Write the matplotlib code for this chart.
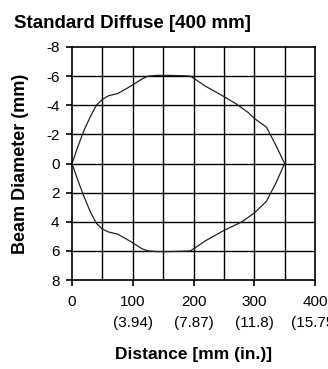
import matplotlib
matplotlib.use("Agg")
import numpy as np
from matplotlib import pyplot as plt

# beam pattern (distance mm, diameter mm)
dist_upper = [0, 10, 20, 30, 40, 50, 60, 75, 90, 100, 115, 125, 140, 160, 180, 195,
              220, 250, 270, 290, 300, 320, 335, 350]
diam_upper = [0, -1.2, -2.3, -3.2, -4.0, -4.4, -4.65, -4.8, -5.15, -5.4, -5.8, -6.0,
              -6.05, -6.05, -6.03, -6.0, -5.3, -4.6, -4.1, -3.5, -3.1, -2.5, -1.3, 0]
dist_lower = [0, 10, 20, 30, 40, 50, 60, 75, 90, 100, 115, 125, 140, 160, 180, 195,
              220, 250, 280, 300, 320, 335, 350]
diam_lower = [0, 1.2, 2.3, 3.3, 4.1, 4.5, 4.7, 4.85, 5.2, 5.45, 5.85, 6.0,
              6.05, 6.05, 6.03, 6.0, 5.3, 4.6, 4.0, 3.4, 2.6, 1.4, 0]

x_ticks = [0, 100, 200, 300, 400]
x_labels = ["0", "100\n(3.94)", "200\n(7.87)", "300\n(11.8)", "400\n(15.75)"]
y_ticks = [-8, -6, -4, -2, 0, 2, 4, 6, 8]

fam = ["Liberation Sans Narrow", "Liberation Sans", "DejaVu Sans"]
plt.rcParams["font.family"] = fam

fig = plt.figure(figsize=(3.28, 3.69), dpi=100)
ax = fig.add_axes([72 / 328, 1 - 280 / 369, (315 - 72) / 328, (280 - 47) / 369])

# grid every 50 mm / 2 mm
for gx in range(50, 400, 50):
    ax.axvline(gx, color="black", lw=1.0, zorder=1)
for gy in y_ticks[1:-1]:
    ax.axhline(gy, color="black", lw=1.0, zorder=1)

ax.plot(dist_upper, diam_upper, color="#222222", lw=0.9, zorder=2)
ax.plot(dist_lower, diam_lower, color="#222222", lw=0.9, zorder=2)

ax.set_xlim(0, 400)
ax.set_ylim(8, -8)
for sp in ax.spines.values():
    sp.set_linewidth(1.2)
    sp.set_color("black")

ax.set_xticks(x_ticks)
ax.set_xticklabels(x_labels, fontsize=11, linespacing=1.65, va="top")
ax.set_yticks(y_ticks)
ax.set_yticklabels([str(v) for v in y_ticks], fontsize=11)
ax.tick_params(axis="x", direction="out", length=4, width=1.2, pad=7)
ax.tick_params(axis="y", direction="out", length=4, width=1.2, pad=5)

ax.set_title("Standard Diffuse [400 mm]", fontsize=13.5, fontweight="bold",
             loc="left", x=-0.24, pad=14)
ax.set_ylabel("Beam Diameter (mm)", fontsize=13, fontweight="bold", labelpad=12)
ax.set_xlabel("Distance [mm (in.)]", fontsize=12.5, fontweight="bold", labelpad=12)

fig.savefig("out.png", dpi=100)
